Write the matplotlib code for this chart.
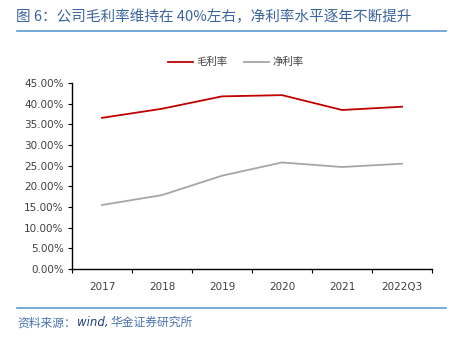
import matplotlib
matplotlib.use('Agg')
import matplotlib.pyplot as plt
from matplotlib.ticker import FuncFormatter, MultipleLocator
from matplotlib.lines import Line2D

plt.rcParams['font.family'] = ['DejaVu Sans', 'Noto Sans CJK SC']

"""Data read off the picture."""
years = ['2017', '2018', '2019', '2020', '2021', '2022Q3']
gross_margin = [36.6, 38.8, 41.8, 42.1, 38.5, 39.3]
net_margin = [15.5, 17.9, 22.6, 25.8, 24.7, 25.5]

fig = plt.figure(figsize=(4.51, 3.38), dpi=100)
ax = fig.add_axes([0.1596, 0.204, 0.7984, 0.550])

x = range(len(years))
ax.plot(x, gross_margin, color='#C00000', lw=1.3, label='毛利率')
ax.plot(x, net_margin, color='#A6A6A6', lw=1.3, label='净利率')

ax.set_xlim(-0.5, len(years) - 0.5)
ax.set_ylim(0, 45)
ax.yaxis.set_major_locator(MultipleLocator(5))
ax.yaxis.set_major_formatter(FuncFormatter(lambda v, p: '%.2f%%' % v))
ax.set_xticks([i + 0.5 for i in range(-1, len(years))])
ax.set_xticklabels([])
ax.set_xticks(list(x), minor=True)
ax.set_xticklabels(years, minor=True)
ax.tick_params(axis='x', which='minor', length=0, pad=9, labelsize=7.5, colors='#404040')
ax.tick_params(axis='x', which='major', length=3, direction='out', color='black')
ax.tick_params(axis='y', length=3, direction='out', labelsize=7.5, labelcolor='#404040',
               color='black', pad=3)
for s in ['top', 'right']:
    ax.spines[s].set_visible(False)
for s in ['left', 'bottom']:
    ax.spines[s].set_color('black')
    ax.spines[s].set_linewidth(1.0)

leg = ax.legend(loc='upper center', bbox_to_anchor=(0.455, 1.19), ncol=2, frameon=False,
                prop={'family': 'Noto Sans CJK SC', 'size': 7.5}, handlelength=2.4,
                columnspacing=1.6, handletextpad=0.3)
for t in leg.get_texts():
    t.set_color('#404040')

"""Title, rules and source note."""
fig.text(0.036, 0.950, '图 6：公司毛利率维持在 40%左右，净利率水平逐年不断提升',
         fontsize=10.5, color='#3B64A0', va='center', family=['Noto Sans CJK SC', 'DejaVu Sans'])
fig.add_artist(Line2D([0.038, 0.99], [0.908, 0.908], color='#5B9BD5', lw=1.2))
fig.add_artist(Line2D([0.038, 0.99], [0.089, 0.089], color='#5B9BD5', lw=1.2))

"""Source note pieces are chained one after another so they never overlap."""
parts = [('资料来源：', '#4A72B0', 'normal', 'Noto Sans CJK SC'),
         ('wind,', '#1F3F80', 'italic', 'DejaVu Sans'),
         ('华金证券研究所', '#4A72B0', 'normal', 'Noto Sans CJK SC')]
renderer = fig.canvas.get_renderer()
xpos = 0.038
for txt, col, sty, fam in parts:
    t = fig.text(xpos, 0.045, txt, fontsize=8.5, color=col, style=sty, va='center', family=fam)
    bb = t.get_window_extent(renderer=renderer)
    xpos = bb.x1 / fig.bbox.width + 0.003

fig.savefig('out.png', dpi=100)
